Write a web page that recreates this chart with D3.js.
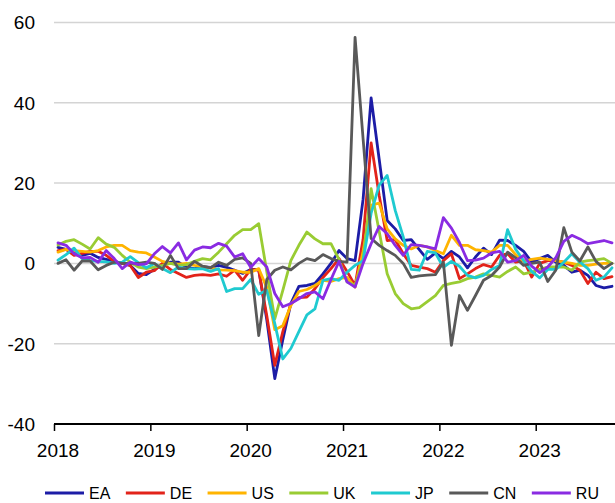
<!DOCTYPE html>
<html>
<head>
<meta charset="utf-8">
<script src="https://cdn.jsdelivr.net/npm/d3@7"></script>
<style>
  html, body { margin: 0; padding: 0; background: #fff; }
  svg { display: block; font-family: Arial, "Liberation Sans", sans-serif; }
</style>
</head>
<body>
<div id="chart"></div>
<script>
// monthly y/y changes, Jan 2018 - Oct 2023
const yearLabels = ["2018", "2019", "2020", "2021", "2022", "2023"];
const yTicks = [-40, -20, 0, 20, 40, 60];

const seriesNames = ["EA", "DE", "US", "UK", "JP", "CN", "RU"];
const seriesColors = ["#1c1ca6", "#e2231a", "#ffb400", "#99cc33", "#1fcad0", "#595959", "#8a2be2"];

const ea = [4, 3.5, 2.5, 2, 2.5, 1.5, 1, 0.5, 0, -0.5,
  -2.5, -2.8, -1.5, -0.3, 0.3, 0.3, -1, -1.3, -0.8, -1,
  -0.5, -1, -1.7, -2.5, -1.5, -1.5, -14, -28.7, -19, -10,
  -5.7, -5.5, -5, -2.6, 0, 3.2, 1.2, 0.7, 16, 41.2,
  26, 10.7, 8.6, 5.7, 5.9, 3.4, 1, 2.6, 1.2, 3,
  1.6, -1.1, 1.6, 3.8, 2.2, 5.8, 5.7, 4.5, 3, 0.3,
  1.2, 2, 0.3, -0.5, -2.2, -1.7, -3, -5.5, -6.1, -5.7];

const de = [3.2, 3.5, 2, 2.5, 3, 3, 2, 0.5, 0, -0.5,
  -3.5, -2.2, -1.8, 0, -1.5, -2.5, -3.5, -3, -2.8, -3,
  -2.6, -3.2, -1.7, -4.2, -1.5, -1.7, -13, -25.4, -17, -10,
  -8.5, -8.4, -6.3, -3.5, -1.3, 1.2, -2, -5.5, 6, 30,
  17, 5.7, 5.9, 2.4, -0.5, -0.9, -1.3, -2.2, 0.7, 2.4,
  -3.8, -2.6, -1.3, -0.3, -0.9, 2, 2.4, 0.3, 0.7, -3.4,
  0, 0.7, 0.7, 0.3, -0.5, -1.7, -5, -2.2, -3.8, -3.3];

const us = [2.8, 3.5, 3.2, 3, 2.8, 3.2, 4.1, 4.5, 4.5, 3.2,
  2.8, 2.6, 1.6, 0.5, 0, -0.2, 0, -0.5, -0.8, -1.1,
  -1.6, -1.7, -1.8, -2.2, -2.2, -1.3, -6, -16.5, -15.5, -10.5,
  -7, -6.5, -5.5, -4.2, -4.5, -3.8, -3.5, -5.9, 3, 14.5,
  15, 8.6, 6.1, 4.5, 3.6, 4.5, 4.1, 3.2, 2.4, 7,
  4.5, 4.5, 3.4, 3.2, 2.8, 4.5, 4.5, 2.2, 0.5, 1,
  1.3, 1, 0.7, 0.3, 0, -0.5, -0.5, -0.2, 0, 0];

const uk = [4.6, 5.5, 5.9, 4.8, 3.6, 6.4, 4.8, 4.0, 2.0, 0.3,
  -0.9, -1.3, -0.9, -0.5, 0, -0.5, -0.3, 0.5, 1.2, 0.9,
  2.8, 4.9, 7.0, 8.4, 8.4, 9.9, -2, -13.8, -6.7, 0.7,
  4.5, 7.8, 6.1, 4.9, 4.9, 1, -4.6, -5.5, 1, 18.6,
  8, -2.6, -7.5, -10, -11.3, -11, -9.5, -8, -5.5, -5,
  -4.6, -3.8, -3.4, -2.6, -3, -3.4, -2, -0.9, -2.6, -2.2,
  -1.5, -0.9, -0.9, -0.9, -1.7, 0.3, 0.7, 0.9, 1.2, 0];

const jp = [0.8, 2.2, 3.8, 1.2, 0.7, 0.5, 0.4, 0, 0.3, 1.7,
  0.2, -1.1, 0, -1.3, -2.3, -0.9, -1.3, -1.4, -1.3, -2,
  -1.3, -7, -6.3, -6.3, -4, -7.7, -6.7, -15, -23.8, -21.2,
  -17, -12.8, -11.3, -4.2, -3.8, -4.2, -2.2, -0.5, 0.7, 12.5,
  19.5, 21.9, 13.2, 6.6, -1.5, -1.7, 3, 2.6, -1, 0.5,
  -0.7, -3, -3.6, -3, -1.5, -0.5, 8.4, 3.5, 0.7, -2,
  -3.6, -1.5, -1.5, 0.3, 2.4, 0.3, -1.3, -4.2, -3.4, -1.1];

const cn = [0, 0.9, -1.7, 0.6, 0.6, -1.6, -0.5, 0.3, 0, 0,
  0, 0.3, 0, -1.5, 2, -1.3, -1.3, 0.5, -0.7, -1.1,
  0.3, -0.5, 1, 1.4, 0, -18, -4, -1.7, -0.9, -1.6,
  0, 1.2, 0.7, 2.2, 1.2, 0.5, 0.3, 56.3, 31, 6.2,
  4.5, 3.2, 2, 0, -3.5, -3.1, -2.9, -2.8, 0.3, -20.4,
  -8, -11.7, -8, -4.2, -3, -0.9, 2.8, 1.4, -0.5, 0,
  0.3, -4.5, -1.7, 8.9, 2.8, 0.6, 4.1, 0.5, -1.3, 0];

const ru = [5.1, 4.5, 2.4, 1.4, 1.5, 0.3, 3.2, 1.2, -1.3, 0.3,
  -0.3, -0.1, 2.4, 4.2, 2.6, 5.1, 0.9, 3.3, 4.1, 3.9,
  5, 4.3, 1.6, 2.4, -1, 1.2, -0.9, -7.5, -10.8, -10,
  -8.8, -7.5, -7.1, -8.8, -4, 0.5, -4.6, -5.9, 0, 4.9,
  9.2, 7.4, 4.5, 2, 4.7, 4.5, 4.1, 3.6, 11.4, 8.8,
  5.2, 0.7, 0.8, 1.3, 2.6, 3, 0.3, 0.7, 2, -0.7,
  -2.3, -0.9, 1.4, 5.5, 7, 6.1, 4.9, 5.3, 5.7, 5.1];

(function () {
    const width = 615;
    const height = 503;
    const values = [ea, de, us, uk, jp, cn, ru];
    const nMonths = ea.length;

    const svg = d3.select('#chart')
        .append('svg')
        .attr('width', width)
        .attr('height', height);

    // one band per month; points sit in the middle of their month
    const x = d3.scaleLinear()
        .domain([0, nMonths])
        .range([54, 616]);

    const y = d3.scaleLinear()
        .domain([-40, 60])
        .range([424, 22.5]);

    // gridlines
    svg.append('g')
        .selectAll('line')
        .data(yTicks.filter(d => d > -40))
        .enter()
        .append('line')
        .attr('x1', 54)
        .attr('x2', width)
        .attr('y1', d => y(d))
        .attr('y2', d => y(d))
        .attr('stroke', '#d4d4d4')
        .attr('stroke-width', 1.5);

    // y labels
    svg.append('g')
        .selectAll('text')
        .data(yTicks)
        .enter()
        .append('text')
        .attr('x', 35)
        .attr('y', d => y(d))
        .attr('dy', '0.36em')
        .attr('text-anchor', 'end')
        .attr('font-size', 19)
        .attr('fill', '#000')
        .text(d => d);

    // x axis: ticks on year boundaries, labels centred on January
    const xAxis = d3.axisBottom(x)
        .tickValues(yearLabels.map((d, i) => i * 12))
        .tickFormat('')
        .tickSize(7)
        .tickSizeOuter(0);

    const gx = svg.append('g')
        .attr('transform', `translate(0,${y(-40)})`)
        .call(xAxis);
    gx.select('.domain')
        .attr('d', `M54,0H${width}`)
        .attr('stroke', '#000')
        .attr('stroke-width', 2);
    gx.selectAll('.tick line')
        .attr('stroke', '#000')
        .attr('stroke-width', 1.5);

    svg.append('g')
        .selectAll('text')
        .data(yearLabels)
        .enter()
        .append('text')
        .attr('x', (d, i) => x(i * 12 + 0.5))
        .attr('y', 457)
        .attr('text-anchor', 'middle')
        .attr('font-size', 19)
        .attr('fill', '#000')
        .text(d => d);

    // series lines
    const line = d3.line()
        .x((d, i) => x(i + 0.5))
        .y(d => y(d));

    svg.append('g')
        .selectAll('path')
        .data(values)
        .enter()
        .append('path')
        .attr('d', d => line(d))
        .attr('fill', 'none')
        .attr('stroke', (d, i) => seriesColors[i])
        .attr('stroke-width', 2.8)
        .attr('stroke-linejoin', 'round')
        .attr('stroke-linecap', 'round');

    // legend
    const legend = svg.append('g');
    let lx = 45;
    const ly = 493;
    seriesNames.forEach((name, i) => {
        legend.append('line')
            .attr('x1', lx)
            .attr('x2', lx + 39)
            .attr('y1', ly)
            .attr('y2', ly)
            .attr('stroke', seriesColors[i])
            .attr('stroke-width', 3);
        const t = legend.append('text')
            .attr('x', lx + 44)
            .attr('y', ly)
            .attr('dy', '0.36em')
            .attr('font-size', 16)
            .attr('fill', '#000')
            .text(name);
        lx += 44 + t.node().getComputedTextLength() + 15.5;
    });
})();
</script>
</body>
</html>
